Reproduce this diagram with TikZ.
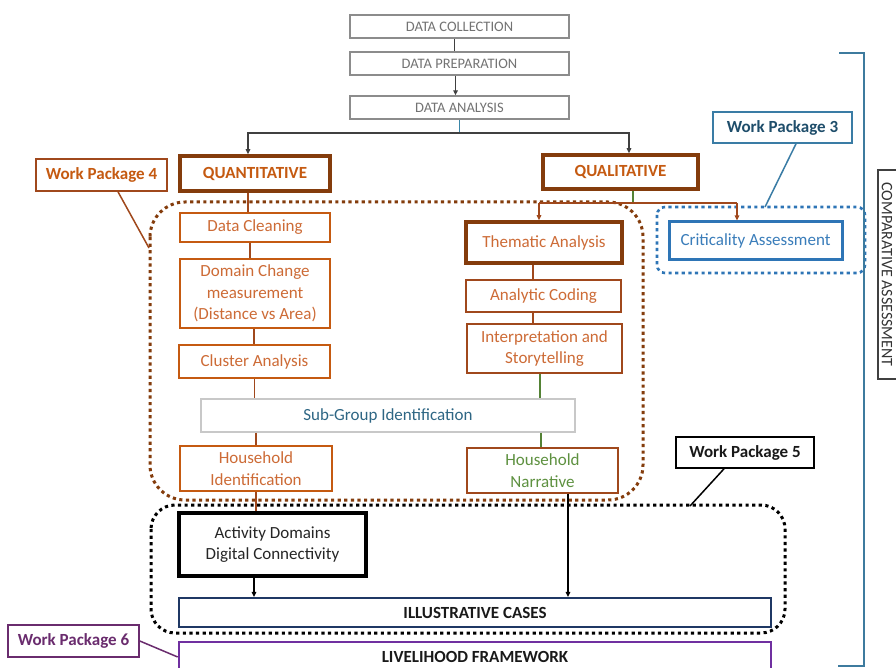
\documentclass[tikz,border=0pt]{standalone}
\usepackage{fontspec}
\setmainfont{Carlito}
\usetikzlibrary{arrows.meta}
\definecolor{dkbrown}{HTML}{843C0C}
\definecolor{orng}{HTML}{C55A11}
\definecolor{orngtxt}{HTML}{CD6B36}
\definecolor{brwn}{HTML}{A0481C}
\definecolor{grn}{HTML}{548235}
\definecolor{grntxt}{HTML}{5E9140}
\definecolor{grayb}{HTML}{8C8C8C}
\definecolor{graytxt}{HTML}{737373}
\definecolor{lgray}{HTML}{C8C8C8}
\definecolor{sgtxt}{HTML}{2E6684}
\definecolor{critb}{HTML}{2E75B6}
\definecolor{crittxt}{HTML}{3A7DBA}
\definecolor{wp3b}{HTML}{3A7CA5}
\definecolor{wp3t}{HTML}{1F4E6B}
\definecolor{brk}{HTML}{3E7B9E}
\definecolor{navy}{HTML}{1F3864}
\definecolor{purp}{HTML}{7030A0}
\definecolor{wpsix}{HTML}{6A2C6E}
\definecolor{lnk}{HTML}{404040}
\definecolor{tealln}{HTML}{3A86A8}
\begin{document}
\begin{tikzpicture}[x=1pt,y=-1pt,
  every node/.style={inner sep=0pt, align=center},
  bodyfont/.style={font=\fontsize{17}{21.7}\selectfont},
  boldfont/.style={font=\fontsize{17}{21.7}\selectfont\bfseries},
  topbox/.style={draw=grayb, line width=1.3pt, text=graytxt, font=\fontsize{14.5}{17}\selectfont, minimum width=219pt, minimum height=23pt},
  thickbox/.style={draw=dkbrown, line width=3.5pt},
  lbox/.style={draw=orng, line width=1.5pt, text=orngtxt, bodyfont},
  rbox/.style={draw=brwn, line width=1.7pt, text=orngtxt, bodyfont},
  wplabel/.style={line width=1.6pt, boldfont},
  tip/.style={-{Triangle[length=5pt,width=4.5pt]}},
  bline/.style={draw=brwn, line width=1.5pt},
  gline/.style={draw=grn, line width=1.5pt},
  kline/.style={draw=black, line width=1.3pt},
  dotline/.style={line width=3pt, dash pattern=on 3.2pt off 3.4pt}
]
\useasboundingbox (0,0) rectangle (896,668);
\clip (0,0) rectangle (896,668);
\fill[white] (0,0) rectangle (896,668);

% dotted groups
\draw[dotline, draw=dkbrown, rounded corners=35pt] (150,202) rectangle (643,500);
\draw[dotline, draw=black, rounded corners=24pt] (151,505) rectangle (785,633);
\draw[dotline, draw=critb, line width=2.6pt, rounded corners=8pt] (657,207) rectangle (865,273);

% top chain
\node[topbox] (dc) at (459.5,26.5) {DATA COLLECTION};
\node[topbox] (dp) at (459.5,63.5) {DATA PREPARATION};
\node[topbox] (da) at (459.5,107.5) {DATA ANALYSIS};

% branches
\node[thickbox, minimum width=150pt, minimum height=35pt, text=orng, boldfont] (quant) at (255,173.5) {QUANTITATIVE};
\node[thickbox, minimum width=155pt, minimum height=34pt, text=orng, boldfont] (qual) at (620.5,172) {QUALITATIVE};

% left column
\node[lbox, minimum width=150pt, minimum height=29pt] (clean) at (255,227.5) {Data Cleaning};
\node[lbox, minimum width=150pt, minimum height=69pt] (domain) at (255,293.5) {Domain Change\\measurement\\(Distance vs Area)};
\node[lbox, minimum width=151pt, minimum height=33pt] (cluster) at (254.5,361.5) {Cluster Analysis};
\node[draw=lgray, line width=1.8pt, text=sgtxt, bodyfont, minimum width=374pt, minimum height=33pt] (subg) at (388,415.5) {Sub-Group Identification};
\node[lbox, minimum width=152pt, minimum height=45pt] (hhid) at (256,468.5) {Household\\Identification};
\node[draw=black, line width=3.5pt, text=black!85, bodyfont, minimum width=187pt, minimum height=63pt] (act) at (272.5,544.5) {Activity Domains\\Digital Connectivity};
\node[draw=navy, line width=2.2pt, text=black!90, boldfont, minimum width=592pt, minimum height=29pt] (illus) at (475,612.5) {ILLUSTRATIVE CASES};
\node[draw=purp, line width=2.6pt, text=black!90, boldfont, minimum width=592pt, minimum height=30pt] (live) at (475,657) {LIVELIHOOD FRAMEWORK};

% right column
\node[thickbox, text=orngtxt, bodyfont, minimum width=156pt, minimum height=41pt] (them) at (544,242.5) {Thematic Analysis};
\node[rbox, minimum width=155pt, minimum height=32pt] (anal) at (543.5,296) {Analytic Coding};
\node[rbox, minimum width=155pt, minimum height=49pt] (interp) at (544.5,348.5) {Interpretation and\\Storytelling};
\node[rbox, text=grntxt, minimum width=151pt, minimum height=45pt] (hhnar) at (542.5,470.5) {Household\\Narrative};
\node[draw=critb, line width=3pt, text=crittxt, bodyfont, minimum width=173pt, minimum height=37pt] (crit) at (755.5,240.5) {Criticality Assessment};

% work package labels
\node[wplabel, draw=brwn, text=orng, minimum width=131pt, minimum height=32pt] (wp4) at (101.5,175) {Work Package 4};
\node[wplabel, draw=wp3b, text=wp3t, minimum width=139pt, minimum height=31pt] (wp3) at (782.5,127.5) {Work Package 3};
\node[wplabel, draw=black, text=black!90, minimum width=138pt, minimum height=31pt] (wp5) at (745,452.5) {Work Package 5};
\node[wplabel, draw=wpsix, text=wpsix, minimum width=131pt, minimum height=32pt] (wp6) at (73.5,641) {Work Package 6};

% comparative assessment
\draw[black!75, line width=1.2pt] (878,170) rectangle (906,379);
\node[rotate=-90, text=black!80, font=\fontsize{16}{18}\selectfont] (comp) at (887,274.5) {COMPARATIVE ASSESSMENT};
\draw[brk, line width=1.6pt] (839,53) -- (864,53) -- (864,666) -- (838,666);

% connectors top
\draw[lnk, line width=1.3pt] ([xshift=-5pt]dc.south) -- ([xshift=-5pt]dp.north);
\draw[lnk, line width=1.3pt, tip] ([xshift=-4pt]dp.south) -- ([xshift=-4pt]da.north);
\coordinate (hj) at (459.5,133);
\draw[tealln, line width=1.5pt] (da.south) -- (hj);
\draw[lnk, line width=1.3pt, tip] (hj) -| ([xshift=-7pt]quant.north);
\draw[lnk, line width=1.3pt, tip] (hj) -| ([xshift=8.5pt]qual.north);

% left column connectors
\draw[bline] ([xshift=-7pt]quant.south) -- ([xshift=-7pt]quant.south |- clean.north);
\draw[bline] ([xshift=-5pt]clean.south) -- ([xshift=-5pt]clean.south |- domain.north);
\draw[bline] ([xshift=-1pt]domain.south) -- ([xshift=-1pt]domain.south |- cluster.north);
\draw[bline] (cluster.south) -- (cluster.south |- subg.north);
\draw[bline] (hhid.north |- subg.south) -- (hhid.north);
\draw[bline] (hhid.south) -- (hhid.south |- act.north);
\draw[kline, tip] ([xshift=-18.5pt]act.south) -- ([xshift=-18.5pt]act.south |- illus.north);

% right column connectors
\coordinate (qj) at (633,203);
\coordinate (ql) at (539,203);
\coordinate (qr) at (737,203);
\draw[gline] ([xshift=12.5pt]qual.south) -- (qj);
\draw[bline] (ql) -- (qr);
\draw[bline, tip] (ql) -- (ql |- them.north);
\draw[bline, tip] (qr) -- (qr |- crit.north);
\draw[bline] ([xshift=-11pt]them.south) -- ([xshift=-11pt]them.south |- anal.north);
\draw[bline] ([xshift=-10.5pt]anal.south) -- ([xshift=-10.5pt]anal.south |- interp.north);
\draw[gline] ([xshift=-4.5pt]interp.south) -- ([xshift=-4.5pt]interp.south |- subg.north);
\draw[gline] ([xshift=-1.5pt]hhnar.north |- subg.south) -- ([xshift=-1.5pt]hhnar.north);
\draw[kline, tip] ([xshift=25.5pt]hhnar.south) -- ([xshift=25.5pt]hhnar.south |- illus.north);

% label leaders
\coordinate (wp4end) at (149,248);
\coordinate (wp3end) at (765,207);
\coordinate (wp5end) at (690,506);
\draw[brwn, line width=1.5pt] ([xshift=16.5pt]wp4.south) -- (wp4end);
\draw[wp3b, line width=1.5pt] ([xshift=13.5pt]wp3.south) -- (wp3end);
\draw[black, line width=1.5pt] ([xshift=-21pt]wp5.south) -- (wp5end);
\draw[wpsix, line width=1.5pt] (wp6.east) -- (live.west);
\end{tikzpicture}
\end{document}
